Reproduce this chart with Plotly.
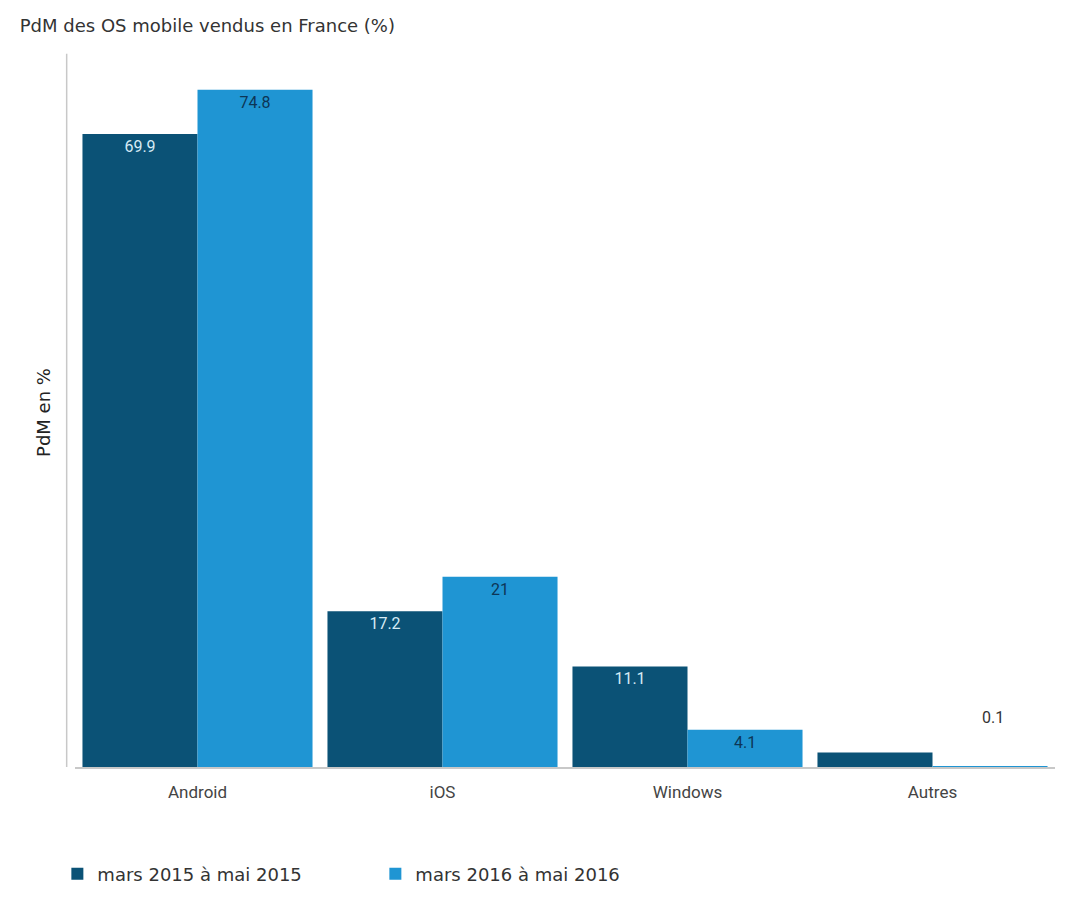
import plotly.graph_objects as go

# parts de marché des OS mobiles vendus en France
categories = ['Android', 'iOS', 'Windows', 'Autres']
pdm_2015 = [69.9, 17.2, 11.1, 1.6]
pdm_2016 = [74.8, 21, 4.1, 0.1]
labels_2015 = ['69.9', '17.2', '11.1', '']
labels_2016 = ['74.8', '21', '4.1', '']
name_2015 = 'mars 2015 à mai 2015'
name_2016 = 'mars 2016 à mai 2016'

DARK = '#0b5276'
LIGHT = '#1f95d3'
LABEL_FONT = 'Roboto'
TEXT_FONT = 'DejaVu Sans'

fig = go.Figure()
fig.add_trace(go.Bar(
    x=categories, y=pdm_2015, name=name_2015,
    marker=dict(color=DARK, line_width=0),
    text=labels_2015, textposition='inside', insidetextanchor='end',
    textangle=0, cliponaxis=False,
    textfont=dict(family=LABEL_FONT, size=16, color='#d6ebf5'),
    hoverinfo='x+y',
))
fig.add_trace(go.Bar(
    x=categories, y=pdm_2016, name=name_2016,
    marker=dict(color=LIGHT, line_width=0),
    text=labels_2016, textposition='inside', insidetextanchor='end',
    textangle=0, cliponaxis=False,
    textfont=dict(family=LABEL_FONT, size=16, color='#0d3556'),
    hoverinfo='x+y',
))

# le 0.1 d'"Autres" est trop petit pour un libellé intérieur : on le pose au-dessus
fig.add_annotation(
    x=categories[3], y=pdm_2016[3], text=str(pdm_2016[3]),
    xshift=60, yshift=49, showarrow=False,
    font=dict(family=LABEL_FONT, size=16, color='#333333'),
)

# axe vertical décalé vers la gauche, comme dans l'original
fig.add_shape(
    type='line', xref='paper', yref='paper',
    x0=-0.0085, x1=-0.0085, y0=0, y1=1.006,
    line=dict(color='#c8c8c8', width=1.5),
)

fig.update_layout(
    width=1070, height=909,
    margin=dict(l=67, r=23, t=50, b=150),
    paper_bgcolor='white', plot_bgcolor='white',
    barmode='group', bargap=0.061, bargroupgap=0,
    title=dict(
        text='PdM des OS mobile vendus en France (%)',
        x=0.011, xanchor='left', y=0.98, yanchor='middle',
        font=dict(family=TEXT_FONT, size=18, color='#333333'),
    ),
    xaxis=dict(
        range=[-0.5, 3.5], showline=True, linecolor='#c8c8c8', linewidth=1.5,
        ticks='', showgrid=False, ticklabelstandoff=9,
        tickfont=dict(family=LABEL_FONT, size=17, color='#444444'),
    ),
    yaxis=dict(
        range=[0, 78.3], showgrid=False, zeroline=False, showline=False,
        showticklabels=False, ticks='',
        title=dict(text='PdM en %', standoff=18,
                   font=dict(family=TEXT_FONT, size=18, color='#222222')),
    ),
    legend=dict(
        orientation='h', x=-0.018, xanchor='left', y=-0.151, yanchor='middle',
        entrywidth=273, itemsizing='constant',
        font=dict(family=TEXT_FONT, size=18, color='#333333'),
    ),
    showlegend=True,
)

fig.write_html('out.html')
